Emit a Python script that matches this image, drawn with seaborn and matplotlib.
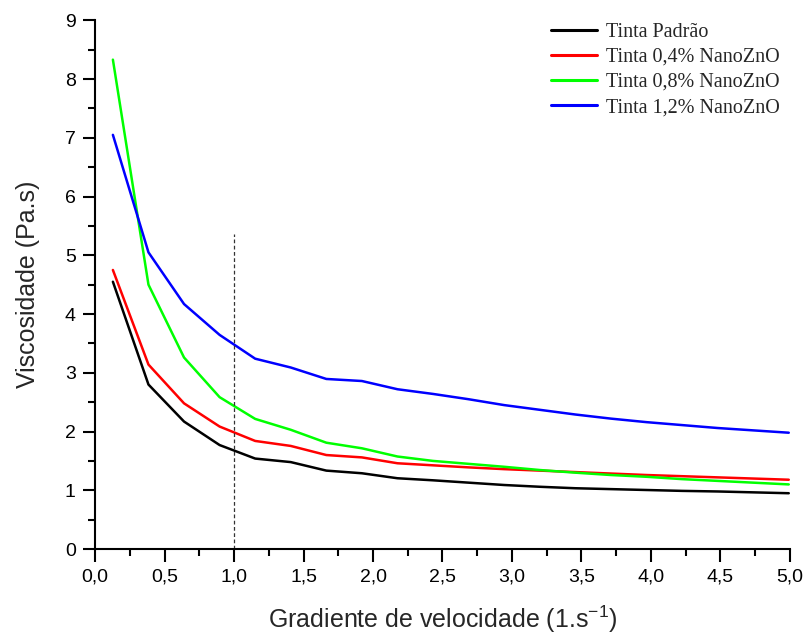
import numpy as np
import pandas as pd
import matplotlib
matplotlib.use("Agg")
import matplotlib.pyplot as plt
import seaborn as sns

x_vals = [0.128, 0.384, 0.64, 0.896, 1.152, 1.408, 1.664, 1.92, 2.176, 2.432,
          2.688, 2.944, 3.2, 3.456, 3.712, 3.968, 4.224, 4.48, 4.736, 4.992]
padrao = [4.55, 2.80, 2.17, 1.77, 1.54, 1.48, 1.335, 1.29, 1.205, 1.17,
          1.13, 1.09, 1.06, 1.035, 1.02, 1.005, 0.99, 0.98, 0.965, 0.95]
zno04 = [4.75, 3.14, 2.48, 2.085, 1.84, 1.755, 1.60, 1.56, 1.46, 1.425,
         1.39, 1.36, 1.335, 1.31, 1.285, 1.26, 1.24, 1.22, 1.20, 1.18]
zno08 = [8.33, 4.50, 3.26, 2.585, 2.215, 2.03, 1.81, 1.715, 1.575, 1.50,
         1.45, 1.40, 1.345, 1.30, 1.26, 1.23, 1.19, 1.16, 1.13, 1.10]
zno12 = [7.05, 5.05, 4.17, 3.645, 3.24, 3.09, 2.895, 2.86, 2.72, 2.64,
         2.55, 2.45, 2.37, 2.29, 2.22, 2.16, 2.11, 2.06, 2.02, 1.98]
series_names = ["Tinta Padrão", "Tinta 0,4% NanoZnO", "Tinta 0,8% NanoZnO", "Tinta 1,2% NanoZnO"]
series_colors = ["#000000", "#ff0000", "#00ff00", "#0000ff"]
x_ticks = [0.0, 0.5, 1.0, 1.5, 2.0, 2.5, 3.0, 3.5, 4.0, 4.5, 5.0]
y_ticks = list(range(0, 10))
ref_x = 1.0
ref_top = 5.37

sns.set_theme(style="ticks")
plt.rcParams['font.family'] = ['Liberation Sans', 'DejaVu Sans']

rows = []
for name, vals in zip(series_names, [padrao, zno04, zno08, zno12]):
    for xv, yv in zip(x_vals, vals):
        rows.append({"x": xv, "y": yv, "serie": name})
df = pd.DataFrame(rows)

fig = plt.figure(figsize=(8.06, 6.34), dpi=100)
ax = fig.add_axes([0.118, 0.134, 0.862, 0.834])

sns.lineplot(data=df, x="x", y="y", hue="serie", hue_order=series_names,
             palette=series_colors, linewidth=1.8, ax=ax, sort=False)

ax.plot([ref_x, ref_x], [0, ref_top], color="#333333", linestyle=(0, (3, 2)), linewidth=0.9)

ax.set_xlim(0, 5)
ax.set_ylim(0, 9)
ax.set_xticks(x_ticks)
ax.set_xticklabels([f"{t:.1f}".replace(".", ",") for t in x_ticks])
ax.set_yticks(y_ticks)
ax.set_yticklabels([str(t) for t in y_ticks])
ax.set_xticks(np.arange(0.25, 5, 0.5), minor=True)
ax.set_yticks(np.arange(0.5, 9, 1.0), minor=True)

for s in ["top", "right"]:
    ax.spines[s].set_visible(False)
for s in ["left", "bottom"]:
    ax.spines[s].set_linewidth(1.5)
    ax.spines[s].set_color("black")

ax.tick_params(which="major", direction="out", length=9, width=1.5, labelsize=14, colors="black", pad=5)
ax.tick_params(which="minor", direction="out", length=5, width=1.5, colors="black")

ax.set_xlabel("Gradiente de velocidade (1.s$^{\\mathregular{-1}}$)", fontsize=18, labelpad=13)
ax.set_ylabel("Viscosidade (Pa.s)", fontsize=18, labelpad=18)

leg = ax.legend(loc="upper right", bbox_to_anchor=(1.012, 1.03), frameon=False,
                prop={"family": "Liberation Serif", "size": 14.5},
                handlelength=2.3, handletextpad=0.45, labelspacing=0.3)
for h in leg.get_lines():
    h.set_linewidth(2.2)

fig.savefig("out.png", dpi=100)
